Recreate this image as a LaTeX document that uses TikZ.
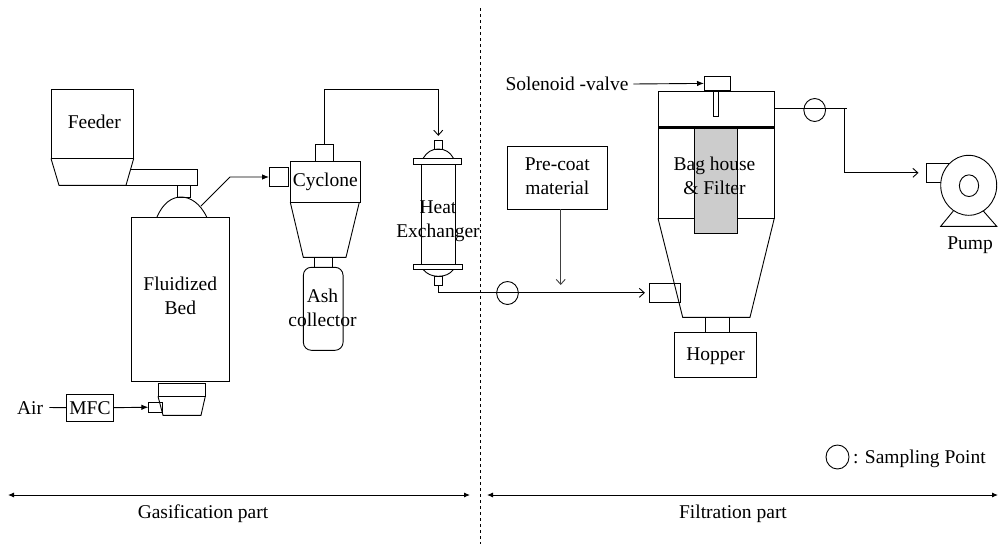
\documentclass[tikz,border=0pt]{standalone}
\usepackage{fontspec}
\setmainfont{Liberation Serif}
\usetikzlibrary{arrows.meta,shapes.geometric}
\tikzset{
  unit/.style={draw, rectangle, inner sep=0pt, outer sep=0pt},
  probe/.style={draw, ellipse, inner sep=0pt, outer sep=0pt, minimum width=21.7, minimum height=23},
  label/.style={inner sep=0pt, outer sep=0pt, align=center},
  pipe/.style={line width=0.9pt},
  solidtip/.style={-{Latex[length=7pt,width=5.5pt]}},
  opentip/.style={-{Straight Barb[length=5pt,width=9pt]}},
  parttip/.style={{Latex[length=6pt,width=5pt]}-{Latex[length=6pt,width=5pt]}},
}
\begin{document}
\begin{tikzpicture}[x=1pt, y=-1pt, line width=0.9pt,
  every node/.append style={font=\fontsize{19.5}{24}\selectfont}]
\useasboundingbox (0,0) rectangle (998,544);

% gasification part
\node[unit, minimum width=82.7, minimum height=69] (feeder) at (92.3,124) {};
\node[label] (feedertext) at (94.3,122) {Feeder};
\draw (51,158.5) -- (59,185.3) -- (126,185.3) -- (133.7,158.5);
\draw (130.7,169.3) -- (197.5,169.3) -- (197.5,185.3) -- (126,185.3);
\node[unit, minimum width=13, minimum height=12] (neck) at (184.2,191.2) {};
\draw (157,217) .. controls (163,203) and (172,197) .. (181,197) .. controls (190,197) and (200,203) .. (206.7,217);
\node[unit, minimum width=97.3, minimum height=164.5] (bed) at (180.3,299.2) {};
\node[label] (bedtext) at (180.3,296) {Fluidized\\Bed};

\node[label] (air) at (30,408) {Air};
\node[unit, minimum width=46.6, minimum height=26.7] (mfc) at (90,407.7) {};
\node[label] (mfctext) at (90,408.5) {MFC};
\node[unit, minimum width=47.3, minimum height=13] (windbox) at (181.6,389.8) {};
\node[unit, minimum width=13.7, minimum height=10.3] (airinlet) at (155.2,407.2) {};
\draw (158,396.3) -- (163,415.3) -- (201,415.3) -- (205.3,396.3);
\draw[pipe] (49.3,407.5) -- (mfc.west);
\draw[pipe, solidtip] (mfc.east) -- (airinlet.west);

\coordinate (bedexit) at (201,206);
\coordinate (bedbend) at (230,177);
\node[unit, minimum width=19.7, minimum height=19.4] (cycinlet) at (278.9,177) {};
\draw[pipe, solidtip] (bedexit) -- (bedbend) -- (cycinlet.west);

\node[unit, minimum width=70, minimum height=41] (cyclone) at (325.3,181.8) {};
\node[label] (cyclonetext) at (325.3,181.5) {Cyclone};
\draw (290.3,202.3) -- (303.3,257.3) -- (346,257.3) -- (359.3,202.3);
\node[unit, minimum width=18, minimum height=16.6] (cycout) at (324.3,153) {};
\node[unit, minimum width=18, minimum height=10] (cycneck) at (323.3,262.3) {};
\node[unit, rounded corners=8pt, minimum width=39.7, minimum height=83] (ash) at (323.2,308.8) {};
\node[label] (ashtext) at (322.5,308) {Ash\\collector};

\node[unit, minimum width=8, minimum height=8.7] (hxtop) at (438.3,144.7) {};
\draw (423.3,158) .. controls (427,152) and (432,149) .. (438.3,149) .. controls (445,149) and (450,152) .. (453.3,158);
\node[unit, minimum width=48.4, minimum height=6.7] (hxflangetop) at (437.5,161.3) {};
\node[unit, minimum width=33.3, minimum height=99.6] (hxbody) at (438.3,214.5) {};
\node[unit, minimum width=49.4, minimum height=5.4] (hxflangebot) at (438,267) {};
\draw (423.3,269.7) .. controls (427,274) and (432,276.3) .. (438.3,276.3) .. controls (445,276.3) and (450,274) .. (453.3,269.7);
\node[unit, minimum width=8.4, minimum height=9] (hxbot) at (438.5,280.8) {};
\node[label] (hxtext) at (438,221) {Heat\\Exchanger};

\coordinate (overhead) at (324.3,89.3);
\draw[pipe, opentip, shorten >=4.5pt] (cycout.north) -- (overhead) -| (hxtop.north);

% divider
\coordinate (divtop) at (480.3,8);
\coordinate (divbot) at (480.3,544);
\draw[dashed, line width=0.8pt] (divtop) -- (divbot);

% filtration part
\node[unit, minimum width=100, minimum height=63] (precoat) at (557.3,177.8) {};
\node[label] (precoattext) at (557.3,176.5) {Pre-coat\\material};
\node[unit, minimum width=31.7, minimum height=19] (baginlet) at (664.8,292.8) {};
\node[probe] (sampleone) at (507.5,293) {};
\draw[pipe, opentip, shorten >=4pt] (hxbot.south) |- (baginlet.west);
\coordinate (precoatdrop) at (560.7,285);
\draw[pipe, opentip, color=black!75] (precoat.south -| precoatdrop) -- (precoatdrop);

\node[unit, minimum width=116.3, minimum height=127] (housing) at (716.2,154.8) {};
\draw (658,218.3) -- (682.7,317.3) -- (750,317.3) -- (774.3,218.3);
\draw[line width=3pt] (658,127.3) -- (774.3,127.3);
\node[unit, fill=black!20, minimum width=42.7, minimum height=105] (filter) at (715.7,180.8) {};
\node[label] (filtertext) at (714.5,175.5) {Bag house\\\& Filter};
\node[unit, minimum width=26, minimum height=14.7] (valve) at (717,83.4) {};
\node[unit, minimum width=4.6, minimum height=25.7] (stem) at (716,103.8) {};
\node[label, anchor=west] (valvetext) at (505.5,84) {Solenoid -valve};
\draw[pipe, solidtip] (633.3,84) -- (valve.west);
\node[unit, minimum width=24.7, minimum height=15] (bagneck) at (717.3,324.8) {};
\node[unit, minimum width=81.6, minimum height=45] (hopper) at (715.5,354.8) {};
\node[label] (hoppertext) at (715.5,356) {Hopper};

\coordinate (bagexit) at (774.3,108.3);
\coordinate (stubend) at (846.7,108.3);
\coordinate (pipedrop) at (844.7,108.3);
\coordinate (pipecorner) at (844.7,172.8);
\node[probe] (sampletwo) at (814.7,110) {};
\draw[pipe] (bagexit) -- (stubend);

% pump
\node[unit, minimum width=24, minimum height=19] (pumpinlet) at (938,172.8) {};
\draw (953.3,211) -- (940.7,226.3) -- (996.7,226.3) -- (983.3,211);
\node[draw, ellipse, inner sep=0pt, outer sep=0pt, fill=white, minimum width=56, minimum height=60] (pump) at (968.7,185.3) {};
\node[draw, ellipse, inner sep=0pt, outer sep=0pt, minimum width=19.3, minimum height=21.7] (rotor) at (969,185.7) {};
\node[label] (pumptext) at (970,245) {Pump};
\draw[pipe, opentip, shorten >=7.5pt] (pipedrop) -- (pipecorner) -- (pumpinlet.west);

% legend and part arrows
\node[draw, ellipse, inner sep=0pt, outer sep=0pt, minimum width=23, minimum height=24] (legend) at (837.5,457) {};
\node[label, anchor=west] (legendtext) at (853,459) {: Sampling Point};

\coordinate (gasleft) at (8,495);
\coordinate (gasright) at (470,495);
\coordinate (filtleft) at (487,495);
\coordinate (filtright) at (998,495);
\draw[pipe, parttip] (gasleft) -- (gasright);
\draw[pipe, parttip] (filtleft) -- (filtright);
\node[label] (gastext) at (203,514) {Gasification part};
\node[label] (filttext) at (733,514) {Filtration part};
\end{tikzpicture}
\end{document}
